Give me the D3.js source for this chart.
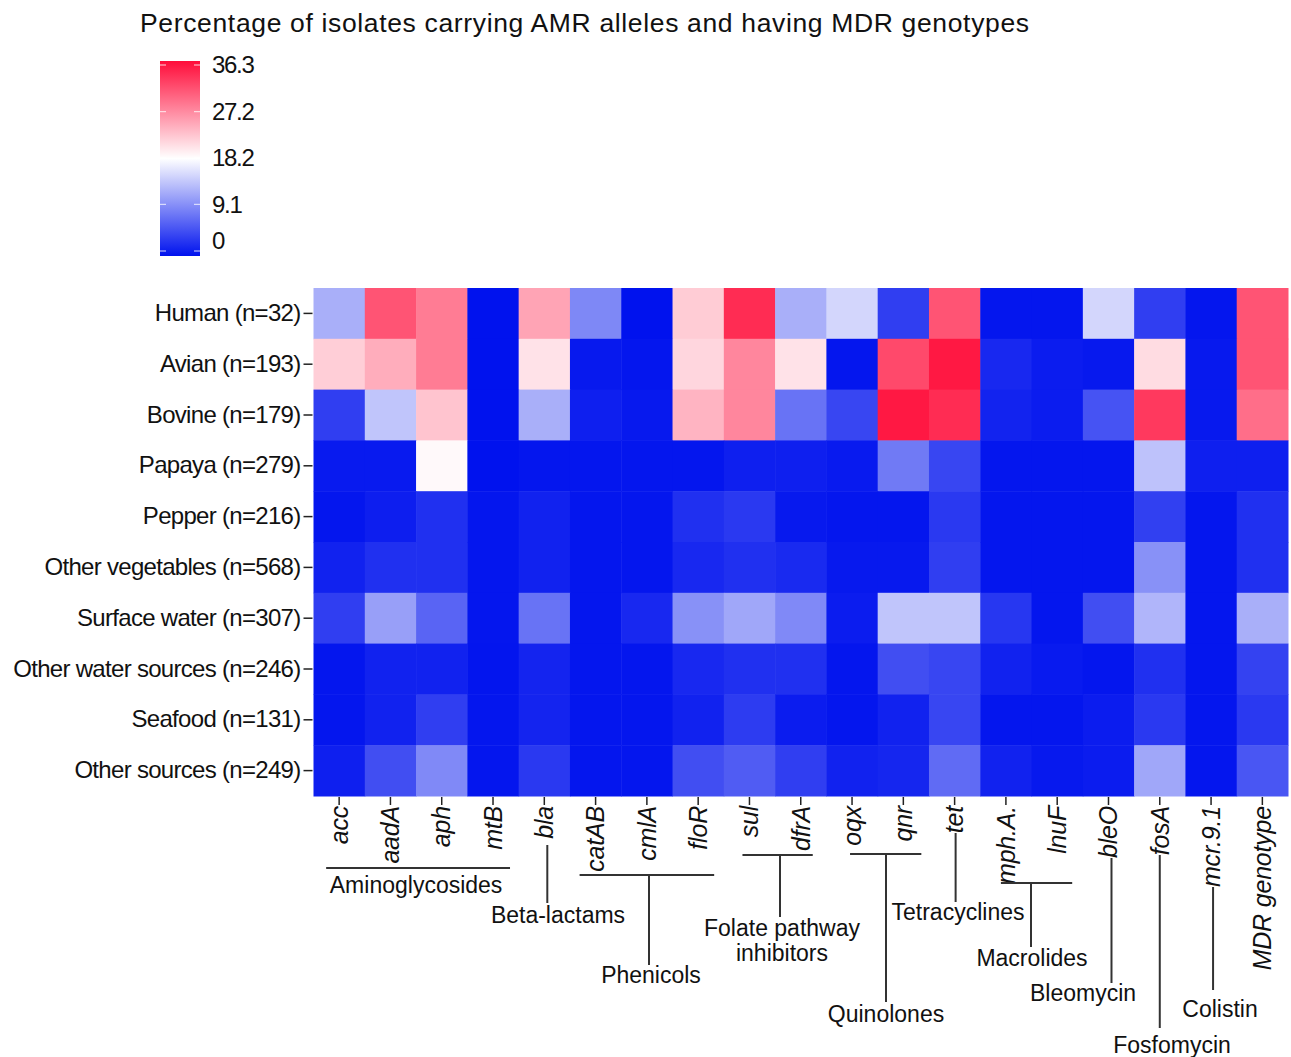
<!DOCTYPE html>
<html>
<head>
<meta charset="utf-8">
<script src="https://cdn.jsdelivr.net/npm/d3@7"></script>
<style>
  body { margin: 0; background: #fff; }
  text { font-family: "Liberation Sans", Arial, sans-serif; fill: #111; }
</style>
</head>
<body>
<div id="chart"></div>
<script>
// data (percent of isolates)
const sources = ["Human (n=32)", "Avian (n=193)", "Bovine (n=179)", "Papaya (n=279)", "Pepper (n=216)",
  "Other vegetables (n=568)", "Surface water (n=307)", "Other water sources (n=246)", "Seafood (n=131)", "Other sources (n=249)"];

const genes = ["acc", "aadA", "aph", "mtB", "bla", "catAB", "cmlA", "floR", "sul", "dfrA", "oqx", "qnr", "tet",
  "mph.A.", "lnuF", "bleO", "fosA", "mcr.9.1", "MDR genotype"];

const human      = [12, 31, 28, 0, 25, 9, 0, 22, 34, 12, 15, 3.4, 31, 0.3, 0.3, 15, 3.4, 0.3, 31];
const avian      = [21.8, 24.3, 28, 0, 20.3, 0.5, 0.3, 21.2, 27.2, 20.3, 0.3, 31.8, 35.5, 1.7, 0.8, 0.5, 20.8, 0.5, 31];
const bovine     = [3.4, 13.7, 22.6, 0, 12, 1, 0.5, 23.8, 27.2, 7.4, 4, 35.5, 34, 1.3, 0.8, 5, 33, 0.5, 29];
const papaya     = [0.6, 0.6, 18.6, 0, 0.3, 0.3, 0.3, 0.3, 1, 1, 0.6, 8, 4, 0.3, 0.3, 0.3, 13.5, 1, 1];
const pepper     = [0.3, 0.9, 2.3, 0.3, 1.2, 0.3, 0.3, 2.3, 3, 0.5, 0.3, 0.3, 3, 0.3, 0.3, 0.3, 3.5, 0.3, 2.3];
const otherVeg   = [1.2, 2.3, 2.3, 0.3, 1.2, 0.3, 0.3, 1.7, 2.3, 1.8, 0.5, 0.5, 3.4, 0.3, 0.3, 0.3, 9.7, 0.3, 2.3];
const surface    = [3.4, 10.8, 6.3, 0.3, 7.4, 0.3, 1.7, 9.7, 11.4, 9.1, 0.8, 13.7, 13.7, 2.8, 0.3, 4.6, 12.5, 0.3, 12];
const otherWater = [0.3, 1.2, 1.2, 0.2, 1.4, 0.3, 0.3, 1.7, 2.3, 2.3, 0.3, 4.6, 4, 1.2, 0.6, 0.3, 2.3, 0.3, 3.7];
const seafood    = [0.3, 1.2, 3.4, 0.3, 1.4, 0.3, 0.3, 1.2, 3.2, 0.8, 0.3, 1.2, 4, 0.3, 0.3, 0.8, 3, 0.3, 3];
const otherSrc   = [1, 4.6, 9.1, 0.3, 3, 0.3, 0.3, 4.6, 5.7, 3.4, 1.2, 1.5, 6.8, 1.2, 0.5, 0.8, 11.4, 0.3, 5.2];

const rows = [human, avian, bovine, papaya, pepper, otherVeg, surface, otherWater, seafood, otherSrc];

const legendTicks = [0, 9.1, 18.2, 27.2, 36.3];

const drugClasses = ["Aminoglycosides", "Beta-lactams", "Phenicols", "Folate pathway|inhibitors", "Quinolones",
  "Tetracyclines", "Macrolides", "Bleomycin", "Fosfomycin", "Colistin"];
const classGenes = [["acc", "mtB"], ["bla", "bla"], ["catAB", "floR"], ["sul", "dfrA"], ["oqx", "qnr"],
  ["tet", "tet"], ["mph.A.", "lnuF"], ["bleO", "bleO"], ["fosA", "fosA"], ["mcr.9.1", "mcr.9.1"]];

const width = 1291, height = 1057;
const plotL = 313.5, plotT = 288, plotR = 1288, plotB = 796;

const svg = d3.select("#chart").append("svg")
  .attr("width", width)
  .attr("height", height);

const x = d3.scaleBand().domain(genes).range([plotL, plotR]);
const y = d3.scaleBand().domain(sources).range([plotT, plotB]);

const color = d3.scaleLinear()
  .domain([0, 18.15, 36.3])
  .range(["#0012ee", "#ffffff", "#ff0d3a"])
  .clamp(true);

const cells = [];
rows.forEach((r, i) => r.forEach((v, j) => cells.push({ src: sources[i], gene: genes[j], v: v })));

svg.append("g").selectAll("rect")
  .data(cells)
  .enter()
  .append("rect")
  .attr("x", d => x(d.gene))
  .attr("y", d => y(d.src))
  .attr("width", x.bandwidth() + 0.5)
  .attr("height", y.bandwidth() + 0.5)
  .attr("fill", d => color(d.v));

// row axis
const yAxis = svg.append("g")
  .attr("transform", "translate(" + (plotL - 1) + ",0)")
  .call(d3.axisLeft(y).tickSize(9).tickPadding(3));
yAxis.select(".domain").remove();
yAxis.selectAll(".tick line").attr("stroke", "#222").attr("stroke-width", 1.5);
yAxis.selectAll("text")
  .style("font-size", "24px")
  .style("letter-spacing", "-0.7px")
  .style("font-family", "'Liberation Sans', Arial, sans-serif")
  .attr("fill", "#111");

// column axis
const xAxis = svg.append("g")
  .attr("transform", "translate(0," + (plotB + 1) + ")")
  .call(d3.axisBottom(x).tickSize(8).tickPadding(3));
xAxis.select(".domain").remove();
xAxis.selectAll(".tick line").attr("stroke", "#222").attr("stroke-width", 1.5);
xAxis.selectAll("text")
  .attr("transform", "rotate(-90)")
  .attr("x", -9)
  .attr("y", 0)
  .attr("dy", "0.35em")
  .attr("text-anchor", "end")
  .style("font-size", "25px")
  .style("font-style", "italic")
  .style("letter-spacing", "-0.2px")
  .style("font-family", "'Liberation Sans', Arial, sans-serif")
  .attr("fill", "#111");

// title
svg.append("text")
  .attr("x", 140)
  .attr("y", 32)
  .style("font-size", "26.5px")
  .style("letter-spacing", "0.65px")
  .text("Percentage of isolates carrying AMR alleles and having MDR genotypes");

// colour legend
const defs = svg.append("defs");
const grad = defs.append("linearGradient")
  .attr("id", "lg")
  .attr("x1", 0).attr("y1", 1).attr("x2", 0).attr("y2", 0);
grad.selectAll("stop")
  .data([0, 0.25, 0.5, 0.75, 1])
  .enter()
  .append("stop")
  .attr("offset", d => d)
  .attr("stop-color", d => color(d * 36.3));

const ly = d3.scaleLinear().domain([0, 36.3]).range([251, 65]);
svg.append("rect")
  .attr("x", 160).attr("y", 61)
  .attr("width", 40).attr("height", 195)
  .attr("fill", "url(#lg)");

svg.append("g").selectAll("g")
  .data(legendTicks)
  .enter()
  .append("g")
  .each(function (d) {
    const g = d3.select(this);
    g.append("line").attr("x1", 160).attr("x2", 166).attr("y1", ly(d)).attr("y2", ly(d))
      .attr("stroke", "#fff").attr("stroke-opacity", 0.7).attr("stroke-width", 1.2);
    g.append("line").attr("x1", 194).attr("x2", 200).attr("y1", ly(d)).attr("y2", ly(d))
      .attr("stroke", "#fff").attr("stroke-opacity", 0.7).attr("stroke-width", 1.2);
  });

svg.append("g").selectAll("text")
  .data(legendTicks)
  .enter()
  .append("text")
  .attr("x", 212)
  .attr("y", d => d === 0 ? ly(d) - 10 : ly(d))
  .attr("dy", "0.35em")
  .style("font-size", "24px")
  .style("letter-spacing", "-1.3px")
  .text(d => d);

// drug class annotations
const layout = [
  { barY: 868, padL: -13, padR: 17, labelY: 893 },
  { stemDx: 3, stemTop: 845, stemBot: 903, labelX: 558, labelY: 923 },
  { barY: 875, padL: -16, padR: 16, stemX: 649, stemBot: 965, labelX: 651, labelY: 983 },
  { barY: 855, padL: -7, padR: 12, stemX: 780, stemBot: 917, labelX: 782, labelY: 936 },
  { barY: 854, padL: -2, padR: 18, stemX: 886, stemBot: 1002, labelX: 886, labelY: 1022 },
  { stemDx: 1, stemTop: 833, stemBot: 902, labelX: 958, labelY: 920 },
  { barY: 883, padL: -5, padR: 15, stemX: 1031, stemBot: 947, labelX: 1032, labelY: 966 },
  { stemDx: 3, stemTop: 858, stemBot: 983, labelX: 1083, labelY: 1001 },
  { stemDx: 0, stemTop: 855, stemBot: 1028, labelX: 1172, labelY: 1053 },
  { stemDx: 2, stemTop: 887, stemBot: 990, labelX: 1220, labelY: 1017 }
];

const cx = g => x(g) + x.bandwidth() / 2;
const ann = svg.append("g").attr("stroke", "#333").attr("stroke-width", 2);

drugClasses.forEach((name, i) => {
  const L = layout[i];
  const [g0, g1] = classGenes[i];
  let lx;
  if (L.barY !== undefined) {
    ann.append("line")
      .attr("x1", cx(g0) + L.padL).attr("x2", cx(g1) + L.padR)
      .attr("y1", L.barY).attr("y2", L.barY);
    if (L.stemX !== undefined) {
      ann.append("line").attr("x1", L.stemX).attr("x2", L.stemX)
        .attr("y1", L.barY).attr("y2", L.stemBot);
    }
    lx = L.labelX !== undefined ? L.labelX : (cx(g0) + cx(g1)) / 2;
  } else {
    const sx = cx(g0) + L.stemDx;
    ann.append("line").attr("x1", sx).attr("x2", sx)
      .attr("y1", L.stemTop).attr("y2", L.stemBot);
    lx = L.labelX;
  }
  const t = svg.append("text")
    .attr("x", lx)
    .attr("y", L.labelY)
    .attr("text-anchor", "middle")
    .style("font-size", "23px");
  name.split("|").forEach((part, k) => {
    t.append("tspan").attr("x", lx).attr("dy", k === 0 ? 0 : 24.5).text(part);
  });
});
</script>
</body>
</html>
